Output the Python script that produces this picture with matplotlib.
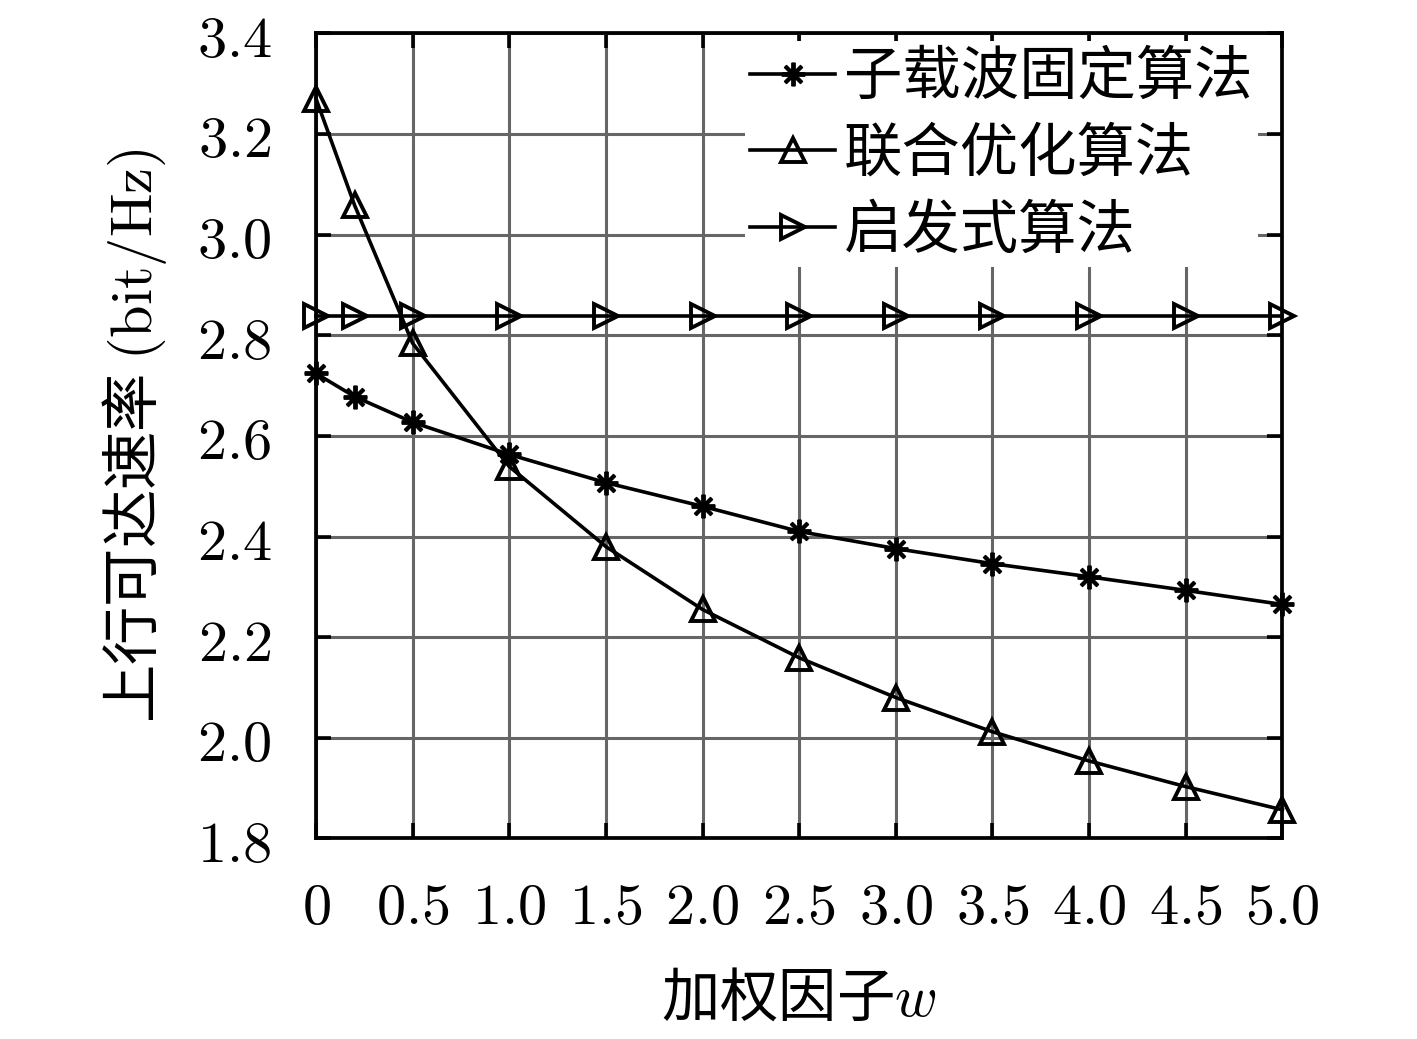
import numpy as np
import matplotlib
matplotlib.use('Agg')
import matplotlib.pyplot as plt
from matplotlib.ticker import FixedLocator, FuncFormatter

plt.rcParams['font.family'] = ['Noto Sans CJK SC', 'DejaVu Sans']
plt.rcParams['mathtext.fontset'] = 'cm'

# data
w = [0, 0.2, 0.5, 1.0, 1.5, 2.0, 2.5, 3.0, 3.5, 4.0, 4.5, 5.0]
rate_fixed = [2.724, 2.678, 2.627, 2.563, 2.507, 2.460, 2.410, 2.376, 2.346, 2.320, 2.293, 2.265]
rate_joint = [3.27, 3.058, 2.784, 2.539, 2.380, 2.255, 2.159, 2.080, 2.012, 1.954, 1.903, 1.857]
rate_heur = [2.839] * len(w)
names = ['子载波固定算法', '联合优化算法', '启发式算法']
xticks = [0, 0.5, 1.0, 1.5, 2.0, 2.5, 3.0, 3.5, 4.0, 4.5, 5.0]
yticks = [1.8, 2.0, 2.2, 2.4, 2.6, 2.8, 3.0, 3.2, 3.4]

fig = plt.figure(figsize=(14.17, 10.39), dpi=100)
ax = fig.add_axes([0.223, 0.193, 0.682, 0.775])

lw = 2.6
ax.plot(w, rate_fixed, color='black', lw=lw, marker=(8, 2, 0), ms=17, mew=2.8,
        clip_on=False, zorder=5, label=names[0])
ax.plot(w, rate_joint, color='black', lw=lw, marker='^', ms=17, mfc='none', mew=2.8,
        clip_on=False, zorder=5, label=names[1])
ax.plot(w, rate_heur, color='black', lw=lw, marker='>', ms=17, mfc='none', mew=2.8,
        clip_on=False, zorder=5, label=names[2])

ax.set_xlim(0, 5)
ax.set_ylim(1.8, 3.4)
ax.xaxis.set_major_locator(FixedLocator(xticks))
ax.yaxis.set_major_locator(FixedLocator(yticks))
ax.xaxis.set_major_formatter(FuncFormatter(lambda v, p: '$0$' if v == 0 else '$%.1f$' % v))
ax.yaxis.set_major_formatter(FuncFormatter(lambda v, p: '$%.1f$' % v))
ax.tick_params(direction='in', length=11, width=2.6, labelsize=42, top=True, right=True)
ax.tick_params(axis='x', pad=28)
ax.tick_params(axis='y', pad=32)
ax.grid(True, color='#666666', lw=2.2)
ax.set_axisbelow(True)
for s in ax.spines.values():
    s.set_linewidth(2.7)

ax.set_xlabel('加权因子$w$', fontsize=42, labelpad=22)
ax.set_ylabel('上行可达速率 $(\\mathrm{bit/Hz})$', fontsize=42, labelpad=20)

leg = ax.legend(loc='upper right', bbox_to_anchor=(0.975, 0.99), fontsize=42,
                frameon=True, fancybox=False, edgecolor='none', framealpha=1,
                handlelength=1.45, handletextpad=0.15, labelspacing=0.27,
                borderaxespad=0, borderpad=0.1)
leg.set_zorder(10)

fig.savefig('out.png', dpi=100)
